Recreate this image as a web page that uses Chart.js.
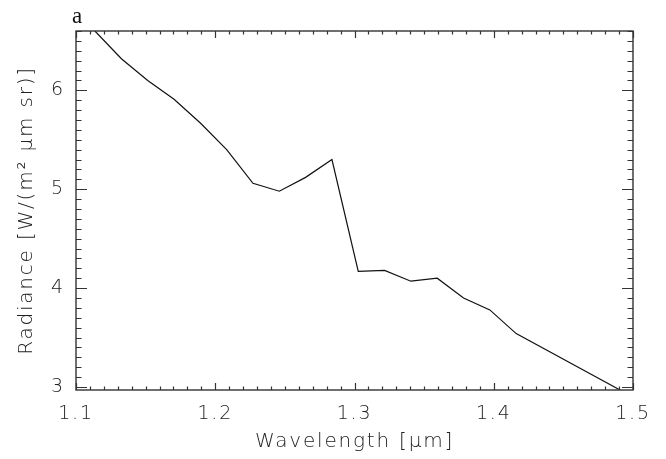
<!DOCTYPE html>
<html>
<head>
<meta charset="utf-8">
<script src="https://cdn.jsdelivr.net/npm/chart.js@4"></script>
<style>
  html, body { margin: 0; padding: 0; background: #fff; }
  #wrap { width: 666px; height: 459px; }
</style>
</head>
<body>
<div id="wrap"><canvas id="c" width="666" height="459"></canvas></div>
<script>
// Data
const wavelengths = [1.1136, 1.1326, 1.1515, 1.1704, 1.1893, 1.2082, 1.2271, 1.2460, 1.2649, 1.2838,
                     1.3027, 1.3216, 1.3405, 1.3594, 1.3783, 1.3972, 1.4161, 1.4907];
const radiance =    [6.60, 6.32, 6.10, 5.91, 5.67, 5.40, 5.06, 4.98, 5.12, 5.30,
                     4.17, 4.18, 4.07, 4.10, 3.90, 3.78, 3.54, 2.97];
const xTicks = [1.1, 1.2, 1.3, 1.4, 1.5];
const yTicks = [3, 4, 5, 6];
const xTitle = 'Wavelength [\u00b5m]';
const yTitle = 'Radiance [W/(m\u00b2 \u00b5m sr)]';
const panelLabel = 'a';

const X_MIN = 1.1, X_MAX = 1.5, Y_MIN = 2.97, Y_MAX = 6.6;
const FONT = "'DejaVu Sans', sans-serif";
const INK = '#222';

const spacing = {
  id: 'spacing',
  beforeDraw(chart) { chart.ctx.letterSpacing = '1.8px'; }
};

const frameTicks = {
  id: 'frameTicks',
  afterDatasetsDraw(chart) {
    const {ctx, chartArea: a, scales: {x, y}} = chart;
    ctx.save();
    ctx.strokeStyle = '#333';
    ctx.lineWidth = 1.4;
    ctx.strokeRect(a.left, a.top, a.right - a.left, a.bottom - a.top);
    ctx.lineWidth = 1.2;
    ctx.beginPath();
    for (let i = 0; i <= 40; i++) {
      const v = X_MIN + i * 0.01;
      const px = Math.round(x.getPixelForValue(v)) + 0.5;
      const len = (i % 10 === 0) ? 7 : 3.5;
      ctx.moveTo(px, a.bottom); ctx.lineTo(px, a.bottom - len);
      ctx.moveTo(px, a.top); ctx.lineTo(px, a.top + len);
    }
    for (let i = 0; i <= 40; i++) {
      const v = 2.9 + i * 0.1;
      if (v < Y_MIN - 1e-9 || v > Y_MAX + 1e-9) continue;
      const py = Math.round(y.getPixelForValue(v)) + 0.5;
      const major = Math.abs(v - Math.round(v)) < 1e-6;
      const len = major ? 11 : 5.5;
      ctx.moveTo(a.left, py); ctx.lineTo(a.left + len, py);
      ctx.moveTo(a.right, py); ctx.lineTo(a.right - len, py);
    }
    ctx.stroke();
    // panel label
    ctx.letterSpacing = '0px';
    ctx.fillStyle = '#111';
    ctx.font = "23px 'Liberation Serif', serif";
    ctx.textBaseline = 'alphabetic';
    ctx.textAlign = 'left';
    ctx.fillText(panelLabel, a.left - 4, a.top - 8);
    ctx.restore();
  }
};

new Chart(document.getElementById('c'), {
  type: 'line',
  data: {
    datasets: [{
      data: wavelengths.map((w, i) => ({x: w, y: radiance[i]})),
      borderColor: '#111',
      borderWidth: 1.2,
      pointRadius: 0,
      tension: 0,
      fill: false
    }]
  },
  options: {
    responsive: false,
    animation: false,
    events: [],
    layout: { padding: { left: 0, top: 31, right: 33, bottom: 0 } },
    plugins: { legend: { display: false }, tooltip: { enabled: false }, title: { display: false } },
    scales: {
      x: {
        type: 'linear', min: X_MIN, max: X_MAX,
        grid: { display: false, drawTicks: false },
        border: { display: false },
        afterBuildTicks: s => { s.ticks = xTicks.map(v => ({value: v})); },
        afterFit: s => { s.height = 69; },
        ticks: { color: INK, padding: 13, font: { family: FONT, size: 19, weight: 200 },
                 callback: v => Number(v).toFixed(1), maxRotation: 0, autoSkip: false },
        title: { display: true, text: xTitle, color: INK, padding: { top: 2, bottom: 5 },
                 font: { family: FONT, size: 20, weight: 200 } }
      },
      y: {
        type: 'linear', min: Y_MIN, max: Y_MAX,
        grid: { display: false, drawTicks: false },
        border: { display: false },
        afterBuildTicks: s => { s.ticks = yTicks.map(v => ({value: v})); },
        afterFit: s => { s.width = 76; },
        ticks: { color: INK, padding: 11, font: { family: FONT, size: 19, weight: 200 },
                 callback: v => String(v), autoSkip: false },
        title: { display: true, text: yTitle, color: INK, padding: { top: 15, bottom: 0 },
                 font: { family: FONT, size: 20, weight: 200 } }
      }
    }
  },
  plugins: [spacing, frameTicks]
});
</script>
</body>
</html>
